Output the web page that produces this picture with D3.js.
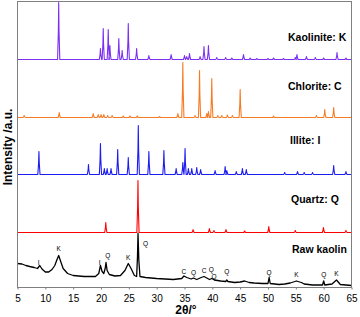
<!DOCTYPE html>
<html><head><meta charset="utf-8">
<script src="https://cdn.jsdelivr.net/npm/d3@7"></script>
<style>body{margin:0;background:#fff}svg{display:block;font-family:"Liberation Sans",Arial,sans-serif}</style>
</head><body>
<svg id="c" width="360" height="317"></svg>
<script>
const xTicks = [5,10,15,20,25,30,35,40,45,50,55,60,65];
const seriesNames = ["Kaolinite: K","Chlorite: C","Illite: I","Quartz: Q","Raw kaolin"];
const seriesColors = ["#7B2FF0","#F57B25","#1C1CF0","#FF0000","#000000"];
const seriesOffsets = [228,170,113,55,0];
// [2θ, peak height]
const kaolinitePeaks = [[12.4,57],[19.9,11],[20.4,31],[21.3,30],[21.6,14],[23.2,21],[23.8,9],[24.9,36],[26.4,11],[28.6,4],[32.6,5],[35.0,4],[35.4,3],[35.9,6],[37.8,3],[38.5,13],[39.3,14],[40.8,2],[42.4,2],[43.5,1.5],[45.6,5],[46.8,1.5],[48.0,1],[50.0,1],[51.0,1.5],[52.8,1],[54.9,2],[55.2,5],[56.9,3],[58.5,2],[60.0,1.5],[62.4,7],[64.0,1.5]];
const chloritePeaks = [[6.2,2],[12.5,5],[18.6,4],[19.5,3],[20.0,3],[20.5,3],[21.2,2],[22.0,2],[24.0,1.5],[25.2,1.5],[26.5,1.5],[30.5,1],[33.8,4],[34.7,55],[36.9,2],[37.7,47],[39.0,4],[39.3,6],[39.9,39],[41.0,2],[41.7,2],[42.7,2.5],[43.6,2],[45.0,28],[51.0,1.5],[58.7,2],[60.2,8],[61.8,10]];
const illitePeaks = [[8.85,23],[17.75,10],[19.9,31],[20.6,6],[21.1,6],[21.8,6],[23.0,25],[24.9,17],[26.7,49],[28.6,23],[31.3,24],[33.5,6],[34.7,12],[35.1,26],[35.7,6],[36.3,6],[37.2,7],[37.9,5],[40.5,4],[42.3,8],[42.6,4],[44.3,3],[45.4,6],[46.1,5],[53.0,2],[55.3,3],[56.5,2],[58.0,2],[61.8,9],[64.0,3]];
const quartzPeaks = [[20.86,10],[26.64,52],[36.54,3],[39.47,4],[40.29,2],[42.45,3],[45.8,1.5],[50.14,6],[54.9,2],[59.96,5],[64.0,2]];
// raw kaolin pattern points [2θ, intensity]
const rawKaolin = [[5,24],[5.8,23.5],[6.5,22],[7.2,21],[8,20],[8.6,19],[9.0,22],[9.4,18.5],[10,15.5],[10.6,15.5],[11.2,18],[11.7,22],[12.1,28],[12.4,32],[12.7,27],[13.2,19],[14,14],[15,12],[16,11.5],[17,11],[18,11],[19,11],[19.6,14],[19.9,22],[20.2,16],[20.5,14],[20.75,19],[20.9,25],[21.1,17],[21.5,13],[22.5,11.5],[23.5,12],[24.3,17],[24.9,24],[25.4,19],[26.0,12],[26.4,11],[26.55,30],[26.65,54],[26.8,27],[27.0,11],[28,10],[29,9.5],[30,9],[31.5,8.5],[33,8],[34.5,9],[34.9,11.5],[35.4,10],[36.2,8.5],[36.6,9.5],[37.2,8],[38.0,10],[38.5,11],[39.0,9.5],[39.5,8],[39.9,9],[40.4,7.5],[41.5,6.5],[42.4,6],[42.6,7.5],[42.8,6],[44,5],[45.0,5.5],[45.8,6.5],[46.6,5],[47.5,4.5],[49,4],[50.0,4],[50.2,10],[50.4,4],[52,3],[53,3.5],[54,4.5],[55.1,6.5],[56,5],[56.5,3.5],[58,2.5],[59.8,2.5],[60.0,6.5],[60.2,2.5],[61.5,3.5],[62.3,7.5],[63.0,3],[64,2.5],[65,2]];
// peak labels on raw kaolin [2θ, label y-intensity, text]
const rawLabels = [[8.8,25,"I"],[12.4,39,"K"],[19.75,25,"I"],[21.2,32,"Q"],[24.9,30,"K"],[28.0,44,"Q"],[34.9,16,"C"],[36.6,15,"Q"],[38.5,17,"C"],[39.8,18,"Q"],[40.3,11,"Q"],[42.6,16,"Q"],[50.2,15,"Q"],[55.1,13,"K"],[60.0,13,"Q"],[62.3,14,"K"]];

const W=360,H=317, L=17.5, R=351.5, T=1.5, B=287.5;
const svg = d3.select("#c");
const x = d3.scaleLinear().domain([5,65]).range([L,R]);
const y = d3.scaleLinear().domain([0,286]).range([B,T]);

function peakLine(peaks){
  const pts=[[5,0]];
  peaks.forEach(([p,h])=>{pts.push([p-0.2,0],[p-0.06,h*0.5],[p,h],[p+0.06,h*0.5],[p+0.2,0]);});
  pts.push([65,0]);
  return pts;
}
const seriesData = [peakLine(kaolinitePeaks),peakLine(chloritePeaks),peakLine(illitePeaks),peakLine(quartzPeaks),rawKaolin];
const widths = [1.1,1.1,1.1,1.1,1.3];

svg.append("clipPath").attr("id","cl").append("rect").attr("x",L).attr("y",T).attr("width",R-L).attr("height",B-T);
const g = svg.append("g").attr("clip-path","url(#cl)");
seriesData.forEach((d,i)=>{
  const off=seriesOffsets[i];
  g.append("path").datum(d).attr("fill","none").attr("stroke",seriesColors[i])
   .attr("stroke-width",widths[i]).attr("stroke-linejoin","round")
   .attr("d",d3.line().x(p=>x(p[0])).y(p=>y(p[1]+off)));
});

// labels
const labelPos = [[288,37],[288,86],[290,140],[291,199],[292,249]];
seriesNames.forEach((n,i)=>{
  svg.append("text").attr("x",labelPos[i][0]).attr("y",labelPos[i][1]).attr("dy","0.35em")
   .attr("font-size",10.5).attr("font-weight","bold").attr("fill","#000").text(n);
});
rawLabels.forEach(([p,v,t])=>{
  svg.append("text").attr("x",x(p)).attr("y",y(v)).attr("dy","0.35em").attr("text-anchor","middle")
   .attr("font-size",6.5).attr("fill","#000").text(t);
});

// frame
svg.append("rect").attr("x",L).attr("y",T).attr("width",R-L).attr("height",B-T)
  .attr("fill","none").attr("stroke","#7f7f7f").attr("stroke-width",1);
const ax = svg.append("g").attr("transform",`translate(0,${B})`)
  .call(d3.axisBottom(x).tickValues(xTicks).tickSize(2).tickFormat(d3.format("d")));
ax.select(".domain").remove();
ax.selectAll("line").attr("stroke","#7f7f7f");
ax.selectAll("text").attr("font-size",10).attr("fill","#000").attr("font-family","Liberation Sans, Arial, sans-serif").attr("dy","0.9em");

svg.append("text").attr("x",186).attr("y",310).attr("dy","0.35em").attr("text-anchor","middle")
  .attr("font-size",12).attr("font-weight","bold").text("2θ/°");
svg.append("text").attr("transform",`translate(8,147) rotate(-90)`).attr("dy","0.35em")
  .attr("text-anchor","middle").attr("font-size",12).attr("font-weight","bold").text("Intensity /a.u.");
</script>
</body></html>
